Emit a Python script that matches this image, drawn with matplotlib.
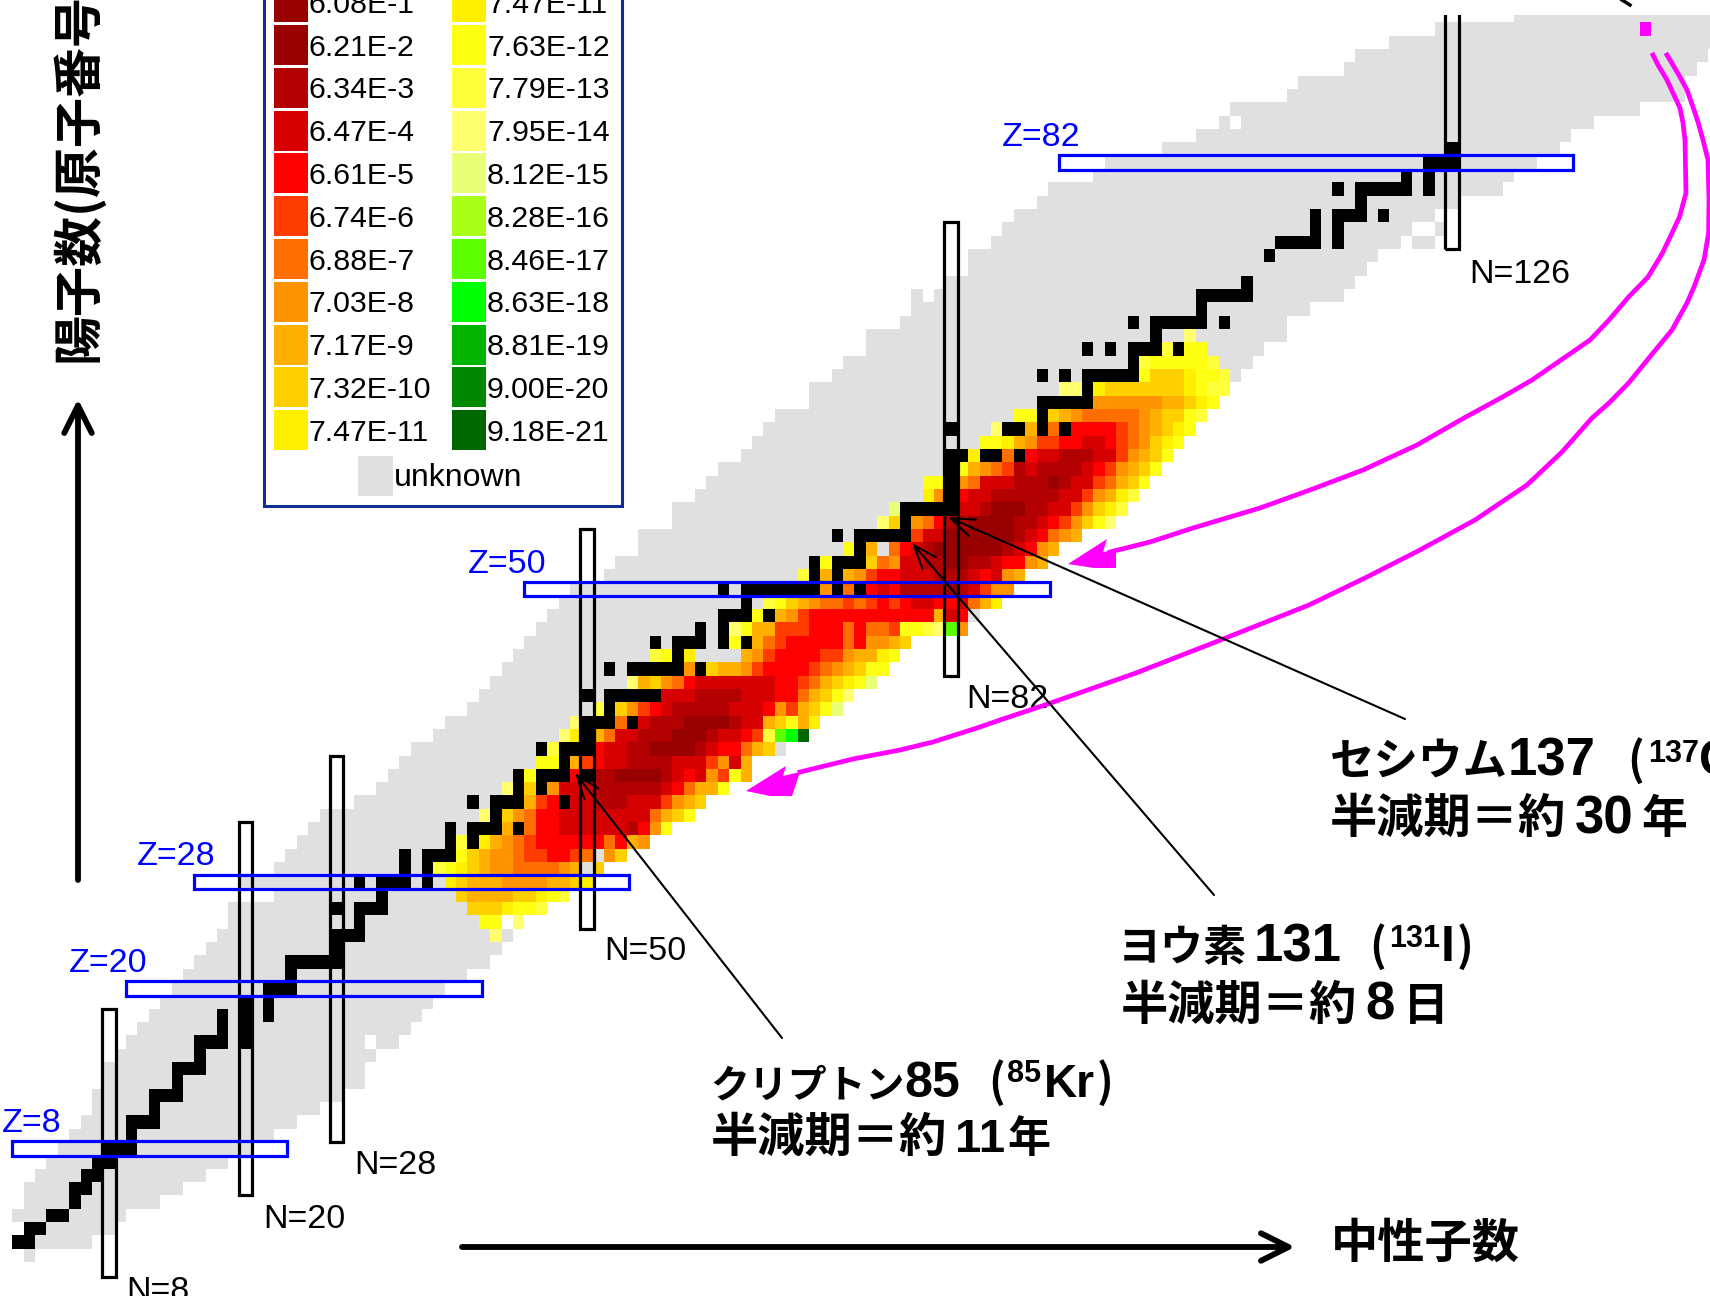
import numpy as np
import matplotlib
matplotlib.use("Agg")
import matplotlib.pyplot as plt
from matplotlib.colors import ListedColormap
from matplotlib.patches import Rectangle, Polygon

plt.rcParams['font.family'] = ['Noto Sans CJK JP', 'DejaVu Sans']

# legend
legend_col1 = ["6.08E-1", "6.21E-2", "6.34E-3", "6.47E-4", "6.61E-5", "6.74E-6",
               "6.88E-7", "7.03E-8", "7.17E-9", "7.32E-10", "7.47E-11"]
legend_col2 = ["7.47E-11", "7.63E-12", "7.79E-13", "7.95E-14", "8.12E-15", "8.28E-16",
               "8.46E-17", "8.63E-18", "8.81E-19", "9.00E-20", "9.18E-21"]
level_colors = ["#990000", "#990000", "#B30000", "#D60000", "#FF0000", "#FF3C00", "#FF6E00",
                "#FF9400", "#FFB000", "#FFD000", "#FFF000", "#FFFF14", "#FFFF3C", "#FFFF70",
                "#E8FF78", "#AAFF18", "#5CFF00", "#00FF00", "#00B400", "#008800", "#006800"]
level_chars = "0123456789abcdefghijk"

# unknown (grey) band, one row per Z starting at Z=0
unknown_nmin = [1, 0, 1, 0, 1, 1, 2, 3, 4, 5, 6, 7, 7, 8, 8, 9, 10, 11, 12, 13, 14, 15, 16, 17,
                18, 19, 19, 23, 20, 23, 24, 25, 26, 27, 30, 32, 33, 34, 35, 37, 38, 40, 41, 42,
                43, 44, 45, 46, 47, 48, 49, 52, 53, 55, 55, 58, 58, 60, 61, 62, 64, 65, 66, 67,
                70, 70, 72, 73, 75, 75, 78, 79, 79, 82, 84, 84, 86, 87, 88, 90, 91, 95, 96, 101,
                104, 106, 107, 112, 113, 117, 118, 121, 125, 132]
unknown_nmax = [1, 6, 8, 9, 12, 14, 16, 18, 20, 22, 24, 26, 28, 30, 30, 31, 33, 34, 35, 36, 37, 39,
                41, 42, 41, 40, 39, 38, 37, 36, 38, 38, 42, 40, 44, 42, 44, 45, 46, 47, 48, 50,
                51, 53, 53, 55, 61, 62, 64, 65, 70, 68, 69, 72, 73, 75, 76, 79, 79, 82, 83, 84,
                85, 87, 89, 91, 98, 98, 100, 102, 111, 113, 116, 117, 118, 119, 121, 122, 124,
                126, 130, 131, 133, 135, 136, 138, 142, 146, 146, 147, 148, 149, 149, 149]
hole_z = [16, 72, 85]
hole_n = [31, 80, 107]
extra_z = [76, 76, 77]
extra_n = [123, 124, 125]

# stable nuclides: Z -> neutron numbers
stable_z = [1, 2, 3, 4, 5, 6, 7, 8, 9, 10, 11, 12, 13, 14, 15, 16, 17, 18, 19, 20, 21, 22, 23, 24,
            25, 26, 27, 28, 29, 30, 31, 32, 33, 34, 35, 36, 37, 38, 39, 40, 41, 42, 44, 45, 46,
            47, 48, 49, 50, 51, 52, 53, 54, 55, 56, 57, 58, 59, 60, 62, 63, 64, 65, 66, 67, 68,
            69, 70, 71, 72, 73, 75, 76, 77, 78, 79, 80, 81, 82, 83]
stable_n = [[0, 1], [1, 2], [3, 4], [5], [5, 6], [6, 7], [7, 8], [8, 9, 10], [10], [10, 11, 12],
            [12], [12, 13, 14], [14], [14, 15, 16], [16], [16, 17, 18, 20], [18, 20],
            [18, 20, 22], [20, 22], [22, 23, 24], [24], [24, 25, 26, 27, 28], [28], [28, 29, 30],
            [30], [28, 30, 31, 32], [32], [30, 32, 33, 34, 36], [34, 36], [34, 36, 37, 38],
            [38, 40], [38, 40, 41, 42, 44], [42], [40, 42, 43, 44, 48], [44, 46],
            [44, 46, 47, 48, 50],
            [48], [46, 48, 49, 50], [50], [50, 51, 52, 54], [52], [50, 52, 53, 54, 55, 56],
            [52, 54, 55, 56, 57, 58, 60], [58], [56, 58, 59, 60, 62, 64], [60, 62],
            [62, 63, 64, 66], [64], [62, 64, 65, 66, 67, 68, 69, 70, 72, 74], [70, 72],
            [70, 72, 73, 74], [74], [72, 74, 75, 76, 77, 78], [78], [78, 79, 80, 81, 82], [82],
            [82], [82], [82, 83, 85, 86, 88], [82, 87, 88, 90, 92], [90], [90, 91, 92, 93, 94],
            [94], [90, 92, 94, 95, 96, 97, 98], [98], [94, 96, 98, 99, 100, 102], [100],
            [98, 100, 101, 102, 103, 104, 106], [104], [104, 105, 106, 107, 108], [108], [110],
            [111, 112, 113, 114, 116], [114, 116], [114, 116, 117, 118, 120], [118],
            [116, 118, 119, 120, 121, 122, 124], [122, 124], [124, 125, 126], [126]]

# fission yield level per nuclide ('_' nothing, 'u' unknown), rows start at heat_z[0]
heat_z = list(range(24, 70))
heat_start = [42, 41, 40, 39, 38, 37, 39, 39, 43, 41, 45, 43, 45, 46, 47, 48, 49, 51, 57, 54, 59,
              56, 63, 63, 65, 66, 71, 69, 71, 73, 79, 76, 77, 80, 80, 83, 84, 85, 86, 88, 95, 92,
              99, 99, 101, 103]
heat_rows = ["du", "bb_d", "999abbc", "9888899abc", "a98887777889a", "cba9877666678u9",
             "b98776554456u79", "c_a87654444446487", "8_644333333247b", "d_9764433333333689b",
             "854_332223335789", "d_9_733322222234688b", "b___4_221111234375b8",
             "bb_8543322223335738", "c___4332211112344689u", "da_863322211123345cghk",
             "d___6_3222111123389b8a", "c_975432222233347589be", "33322223334468" "9bd",
             "d8976433333334456" "89abe", "7_98875444456789bb", "cb_auuuu875444455788ab",
             "b_86544444647789", "db885554446466" "5bbcdg7", "b_87544444444444834u",
             "cb98766565454334436" "8a", "7_6_4342222123577", "c_8_8754433322234378",
             "b___96733221122344" "78", "b_8u643211111123478", "533111111234678",
             "d9_76422111122345" "79bd", "e_____332111223357" "9ac", "a7_4332222223357" "8ac",
             "bb_7633322212335689b", "b8765232222345789b", "a__6_433222335789b",
             "bba8755443345679ab", "d__8_6_444456789ab", "bb_98766666789" "9bc",
             "777777889ab", "dd_a9999999abcc", "b999abbcu", "cbbbbbcuuu", "c_bbuuuuu", "duuuuuuuu"]

# U-235 marker and magic number boxes
parent_n, parent_z = 143, 92
magic_n = [8, 20, 28, 50, 82, 126]
magic_n_lo = [-1.6, 4.5, 8.5, 24.5, 43.5, 75.5]
magic_n_hi = [18.5, 32.5, 37.5, 54.5, 77.5, 100]
magic_z = [8, 20, 28, 50, 82]
magic_z_lo = [-0.5, 9.5, 15.5, 44.5, 91.5]
magic_z_hi = [23.6, 40.8, 53.7, 90.7, 136.6]

# build the cell grid: 0 empty, 1 unknown, 2 stable, 3+ yield level
grid = np.zeros((95, 151), dtype=int)
for z, (a, b) in enumerate(zip(unknown_nmin, unknown_nmax)):
    grid[z, a:b + 1] = 1
for z, n in zip(hole_z, hole_n):
    grid[z, n] = 0
for z, n in zip(extra_z, extra_n):
    grid[z, n] = 1
for z, start, row in zip(heat_z, heat_start, heat_rows):
    for i, c in enumerate(row):
        if c == 'u':
            grid[z, start + i] = 1
        elif c != '_':
            grid[z, start + i] = 3 + level_chars.index(c)
for z, ns in zip(stable_z, stable_n):
    for n in ns:
        grid[z, n] = 2

cmap = ListedColormap(["#FFFFFF", "#E0E0E0", "#000000"] + level_colors)

fig = plt.figure(figsize=(17.1, 12.96), dpi=100)
ax = fig.add_axes([0, 0, 1, 1])
ax.pcolormesh(np.arange(152) - 0.5, np.arange(96) - 0.5, grid, cmap=cmap, vmin=-0.5,
              vmax=len(level_colors) + 2.5, antialiased=False, zorder=1)
ax.set_xlim(-1.578, 148.68)
ax.set_ylim(-3.05, 94.18)
ax.axis('off')
ax.add_patch(Rectangle((parent_n - 0.5, parent_z - 0.5), 1, 1, fc="#FF00FF", ec='none', zorder=2))

for n, lo, hi in zip(magic_n, magic_n_lo, magic_n_hi):
    ax.add_patch(Rectangle((n - 0.6, lo), 1.2, hi - lo, fc='none', ec='black', lw=2.3, zorder=3))
for z, lo, hi in zip(magic_z, magic_z_lo, magic_z_hi):
    ax.add_patch(Rectangle((lo, z - 0.55), hi - lo, 1.1, fc='none', ec='#0000FF', lw=2.3, zorder=4))

# annotation layer in figure pixels
pax = fig.add_axes([0, 0, 1, 1], facecolor='none')
pax.set_xlim(0, 1710)
pax.set_ylim(1296, 0)
pax.axis('off')

# top of the band is cut off in the original
pax.add_patch(Rectangle((1400, -2), 312, 17, fc='white', ec='none', zorder=1))

# legend
pax.add_patch(Rectangle((263.5, -10), 358, 515.5, fc='white', ec='#0F3090', lw=2.2, zorder=2))
for col, (labels, levels, sx, tx) in enumerate([(legend_col1, range(0, 11), 273.5, 309),
                                                (legend_col2, range(10, 21), 452, 488)]):
    for i, (lab, lev) in enumerate(zip(labels, levels)):
        top = 25 + 42.8 * (i - 1)
        pax.add_patch(Rectangle((sx, top), 34, 40, fc=level_colors[lev], ec='none', zorder=3))
        pax.text(sx + 35, top + 30.7, lab, fontsize=21.8, family=['Liberation Sans'],
                 va='baseline', ha='left', zorder=3)
pax.add_patch(Rectangle((358, 456), 35, 40, fc='#E0E0E0', ec='none', zorder=3))
pax.text(394, 486, "unknown", fontsize=23, family=['Liberation Sans'], va='baseline', zorder=3)

# magic number labels
for x, y, s, c in [(2, 1132, "Z=8", '#0000FF'), (69, 972, "Z=20", '#0000FF'),
                   (137, 865, "Z=28", '#0000FF'), (468, 573, "Z=50", '#0000FF'),
                   (1002, 146, "Z=82", '#0000FF'), (126, 1300, "N=8", 'black'),
                   (263, 1228, "N=20", 'black'), (354, 1174, "N=28", 'black'),
                   (604, 960, "N=50", 'black'), (966, 708, "N=82", 'black'),
                   (1469, 283, "N=126", 'black')]:
    pax.text(x, y, s, color=c, fontsize=24.5, family=['Liberation Sans'], va='baseline', ha='left',
             zorder=5)

# fission curves
curve_a_x = [1653, 1658, 1667, 1673, 1680, 1683, 1685, 1686, 1679.5, 1672, 1662.5, 1648, 1628.6,
             1609, 1590, 1561, 1532, 1502.6, 1464, 1417, 1363, 1310, 1260, 1193, 1150, 1110]
curve_a_y = [55, 65, 80, 93, 108, 123, 140, 193, 217, 233, 253, 277, 297, 320, 340, 360, 380, 397,
             418, 445, 470, 490, 508, 528, 542, 552]
curve_b_x = [1667, 1673, 1680, 1687, 1693, 1698, 1703, 1708, 1709, 1708.6, 1704, 1694, 1687, 1672,
             1653, 1628.6, 1609, 1592, 1562, 1527, 1475, 1418, 1365, 1309, 1213, 1136, 1045, 1000,
             977, 933, 900, 853, 800]
curve_b_y = [55, 65, 77, 90, 107, 122, 140, 160, 200, 233, 260, 287, 303, 330, 353, 383, 403, 418,
             452, 485, 520, 551, 578, 605, 643, 673, 705, 720, 728, 742, 750, 759, 772]
pax.plot(curve_a_x, curve_a_y, color='#FF00FF', lw=3.4, zorder=6, solid_joinstyle='round')
pax.plot(curve_b_x, curve_b_y, color='#FF00FF', lw=3.4, zorder=6, solid_joinstyle='round')
pax.add_patch(Polygon([(1068, 564), (1107, 539), (1103, 552), (1116, 550), (1116, 568), (1094, 568)],
                      fc='#FF00FF', ec='none', zorder=6))
pax.add_patch(Polygon([(746, 791), (786, 766), (783, 776), (800, 772), (792, 796), (770, 796)],
                      fc='#FF00FF', ec='none', zorder=6))

# leaders
for tip, tail in [((948, 517), (1405, 719)), ((912, 543), (1214, 895)), ((575, 773), (782, 1038))]:
    pax.annotate("", xy=tip, xytext=tail, zorder=7,
                 arrowprops=dict(arrowstyle='->,head_length=0.85,head_width=0.32', mutation_scale=20,
                                 lw=1.5, color='black', shrinkA=0, shrinkB=0))

# axis arrows
pax.annotate("", xy=(1295, 1247), xytext=(462, 1247), zorder=7,
             arrowprops=dict(arrowstyle='->,head_length=0.9,head_width=0.45', mutation_scale=22,
                             lw=4.2, color='black', shrinkA=0, shrinkB=0))
pax.annotate("", xy=(78, 399), xytext=(78, 880), zorder=7,
             arrowprops=dict(arrowstyle='->,head_length=0.9,head_width=0.45', mutation_scale=22,
                             lw=4.2, color='black', shrinkA=0, shrinkB=0))
pax.plot([1622, 1630], [0, 5], color='black', lw=2.5, zorder=7)

# Japanese captions
cjk = ['Noto Sans CJK JP', 'DejaVu Sans']
latin = ['Liberation Sans']
caption_runs = [
    (1330, 775, "セシウム", 32, cjk), (1508, 775, "137", 38, latin), (1627, 775, "(", 32, cjk),
    (1648, 762, "137", 22, latin), (1699, 775, "Cs)", 36, latin),
    (1330, 833, "半減期＝約", 34, cjk), (1575, 833, "30", 38, latin), (1641, 833, "年", 33, cjk),
    (1118, 961, "ヨウ素", 31, cjk), (1254, 961, "131", 38, latin), (1369, 961, "(", 32, cjk),
    (1389, 947, "131", 22, latin), (1441, 961, "I", 36, latin), (1457, 961, ")", 32, cjk),
    (1121, 1020, "半減期＝約", 34, cjk), (1365, 1020, "8", 38, latin), (1403, 1020, "日", 33, cjk),
    (710, 1097, "クリプトン", 28, cjk), (904, 1097, "85", 36, latin), (988, 1097, "(", 32, cjk),
    (1007, 1082, "85", 22, latin), (1044, 1097, "Kr", 33, latin), (1097, 1097, ")", 32, cjk),
    (711, 1152, "半減期＝約", 34, cjk), (955, 1152, "11", 34, latin), (1007, 1152, "年", 31, cjk),
    (1331, 1258, "中性子数", 34, cjk),
]
for x, y, s, size, fam in caption_runs:
    pax.text(x, y, s, fontsize=size, family=fam, weight='bold', va='baseline', ha='left', zorder=8)
pax.text(78, 362, "陽子数(原子番号", fontsize=36, family=cjk, weight='bold', rotation=90,
         rotation_mode='anchor', va='center', ha='left', zorder=8)

fig.savefig("out.png", dpi=100)
